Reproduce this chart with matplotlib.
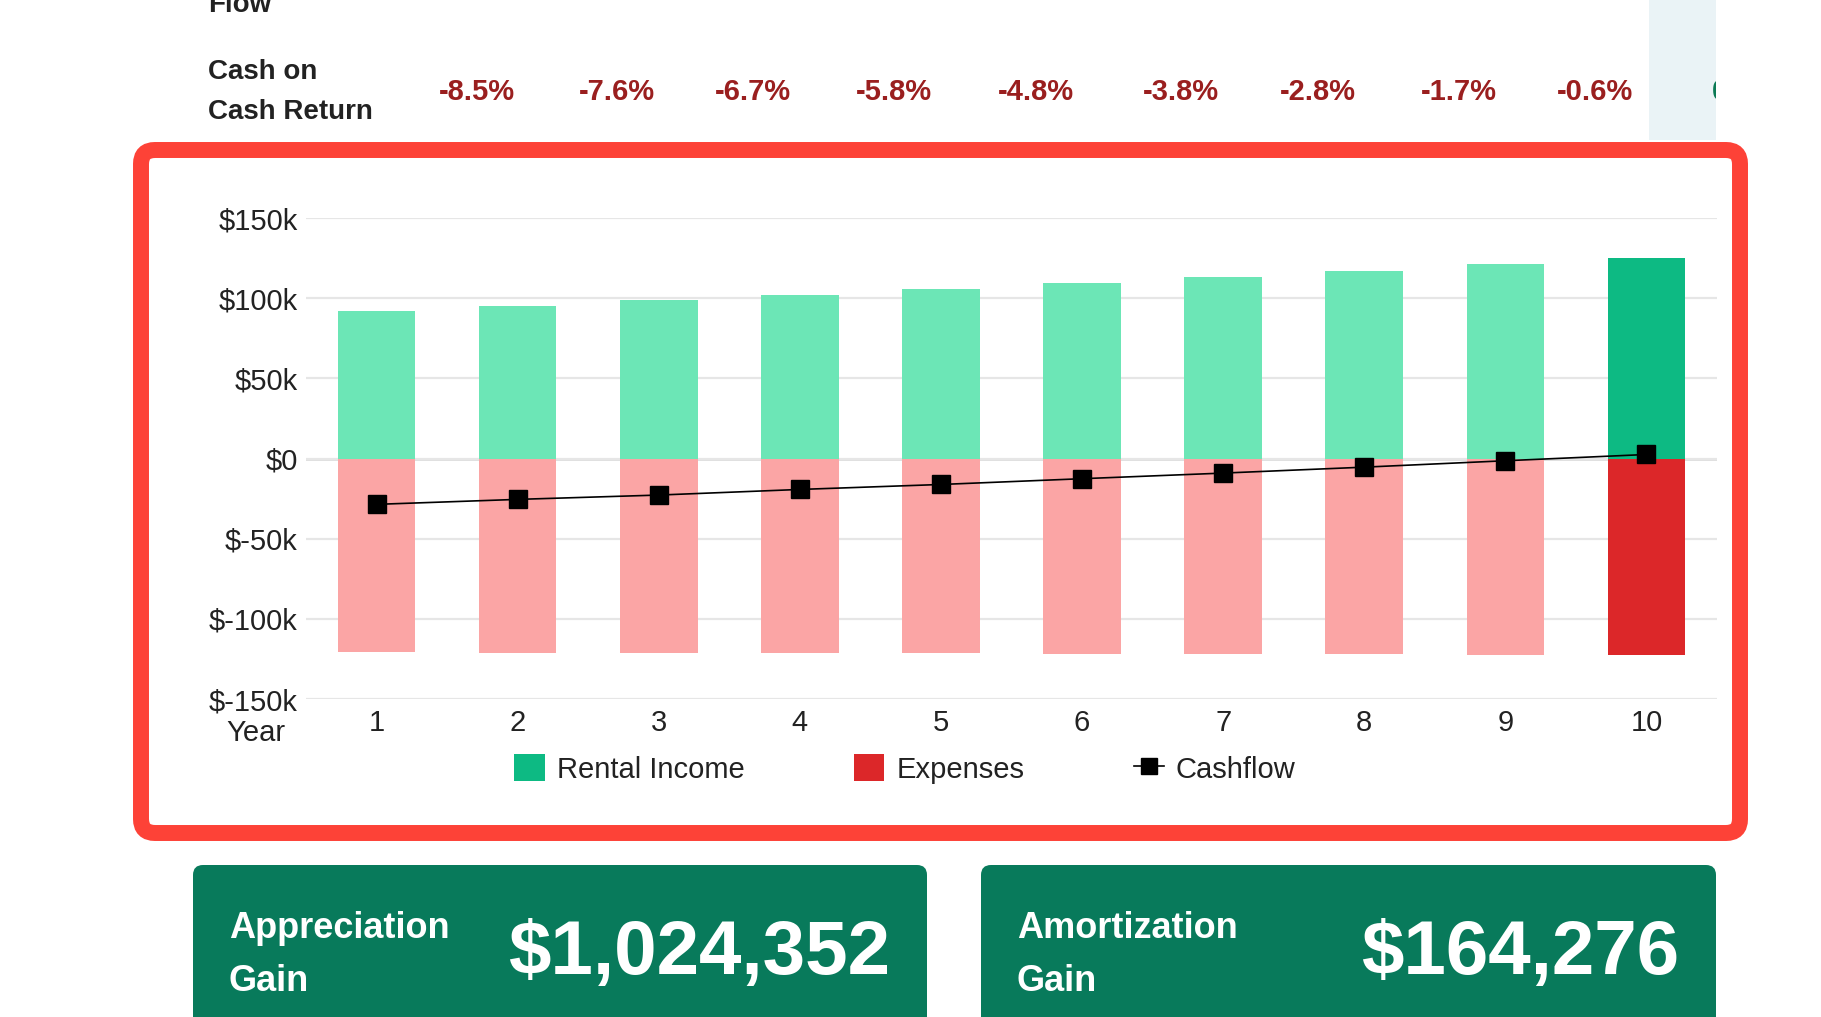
import matplotlib.pyplot as plt
from matplotlib.patches import FancyBboxPatch, Rectangle
from matplotlib.lines import Line2D
from matplotlib.patches import Patch

plt.rcParams["font.family"] = ["Liberation Sans", "DejaVu Sans"]

# Datos (miles de dólares)
years = [1, 2, 3, 4, 5, 6, 7, 8, 9, 10]
rental_income = [92.2, 95.3, 98.6, 102.1, 105.7, 109.4, 113.1, 117.1, 121.1, 125.3]
expenses = [-120.6, -121.0, -121.2, -121.4, -121.6, -121.8, -122.0, -122.2, -122.4, -122.8]
cashflow = [-28.6, -25.5, -22.8, -19.3, -16.2, -12.6, -9.1, -5.4, -1.4, 2.5]
coc_return = ["-8.5%", "-7.6%", "-6.7%", "-5.8%", "-4.8%", "-3.8%", "-2.8%", "-1.7%", "-0.6%", "0.7%"]
y_ticks = [150, 100, 50, 0, -50, -100, -150]
card_labels = ["Appreciation\nGain", "Amortization\nGain"]
card_values = ["$1,024,352", "$164,276"]

W, H = 1821, 1017
fig = plt.figure(figsize=(W / 100, H / 100), dpi=100)
fig.patch.set_facecolor("white")

# Capa de fondo en coordenadas de píxel
bg = fig.add_axes([0, 0, 1, 1])
bg.set_xlim(0, W)
bg.set_ylim(H, 0)
bg.axis("off")

# Marco rojo
bg.add_patch(FancyBboxPatch((141, 150), 1740 - 141, 833 - 150,
                            boxstyle="round,pad=0,rounding_size=14",
                            facecolor="white", edgecolor="#fd4237", linewidth=11.5))

# Tarjetas inferiores
card_x = [(193, 927), (981, 1716)]
for (x0, x1), lab, val in zip(card_x, card_labels, card_values):
    bg.add_patch(FancyBboxPatch((x0, 865), x1 - x0, 250,
                                boxstyle="round,pad=0,rounding_size=10",
                                facecolor="#087a5b", edgecolor="none"))
    bg.text(x0 + 36, 955, lab, color="white", fontsize=26, fontweight="bold",
            va="center", ha="left", linespacing=1.7)
    bg.text(x1 - 37, 955, val, color="white", fontsize=55, fontweight="bold",
            va="center", ha="right")

# Fila de tabla superior (recortada a la derecha)
tab = fig.add_axes([0, 1 - 150 / H, 1716 / W, 150 / H])
tab.set_xlim(0, 1716)
tab.set_ylim(150, 0)
tab.axis("off")
tab.add_patch(Rectangle((1649, 0), 200, 140, facecolor="#eaf3f6", edgecolor="none"))
tab.text(208, 12, "Flow", fontsize=20, fontweight="bold", color="#222222", va="baseline", ha="left")
tab.text(208, 92, "Cash on\nCash Return", fontsize=20, fontweight="bold", color="#222222",
         va="center", ha="left", linespacing=1.7)
col_x = [477, 617, 753, 894, 1036, 1181, 1318, 1459, 1595, 1745]
for cx, txt in zip(col_x, coc_return):
    color = "#0b7a55" if not txt.startswith("-") else "#9a1f1f"
    tab.text(cx, 92, txt, fontsize=21, fontweight="bold", color=color,
             ha="center", va="center", clip_on=True)

# Gráfico principal
ax = fig.add_axes([306 / W, 1 - 699 / H, (1717 - 306) / W, (699 - 218) / H])
ax.set_facecolor("none")
light_green = "#6ce6b6"
dark_green = "#0dba83"
light_red = "#fba5a5"
dark_red = "#dc2729"
g_colors = [light_green] * 9 + [dark_green]
r_colors = [light_red] * 9 + [dark_red]
ax.bar(years, rental_income, width=0.55, color=g_colors, zorder=2)
ax.bar(years, expenses, width=0.55, color=r_colors, zorder=2)
ax.plot(years, cashflow, color="black", linewidth=1.2, marker="s", markersize=13, zorder=3)

ax.set_xlim(0.5, 10.5)
ax.set_ylim(-150, 150)
ax.set_yticks(y_ticks)
ax.set_yticklabels([f"${v}k" if v != 0 else "$0" for v in y_ticks])
ax.set_xticks(years)
ax.set_xticklabels([str(y) for y in years])
ax.tick_params(length=0, labelsize=21, colors="#222222", pad=7)
ax.tick_params(axis="y", pad=6)
ax.grid(axis="y", color="#e6e6e6", linewidth=1.6, zorder=0)
for s in ax.spines.values():
    s.set_visible(False)
ax.axhline(0, color="#d6d6d6", linewidth=1.8, zorder=1)

fig.text(285 / W, 1 - 733 / H, "Year", fontsize=21, color="#222222", ha="right", va="center")

handles = [
    Patch(facecolor=dark_green, edgecolor="none", label="Rental Income"),
    Patch(facecolor=dark_red, edgecolor="none", label="Expenses"),
    Line2D([0], [0], color="black", marker="s", markersize=11, linewidth=1.2, label="Cashflow"),
]
fig.legend(handles=handles, loc="center", bbox_to_anchor=(905 / W, 1 - 769 / H), ncol=3,
           frameon=False, fontsize=21, handlelength=1.05, handleheight=1.05,
           handletextpad=0.4, columnspacing=3.75, labelcolor="#222222")

fig.savefig("out.png", dpi=100)
